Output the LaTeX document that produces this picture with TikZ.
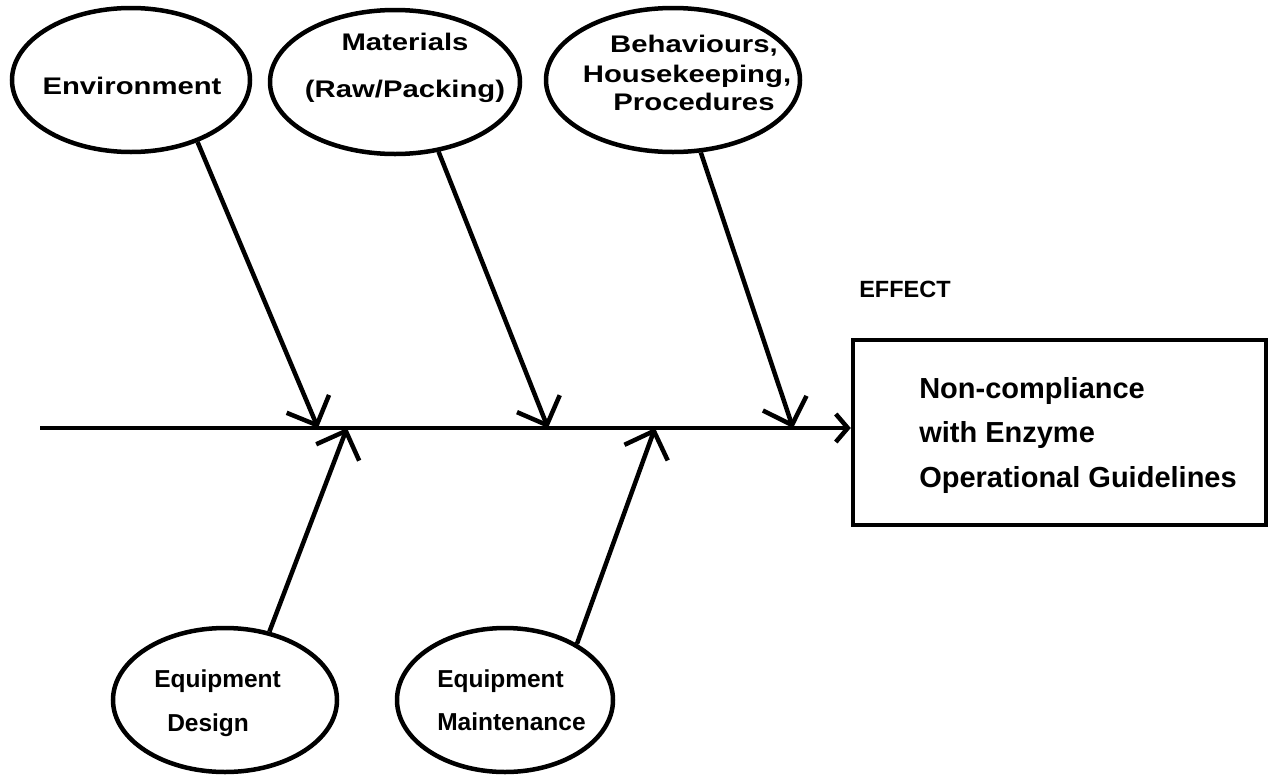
\documentclass[tikz,border=0pt]{standalone}
\usepackage{fontspec}
\setmainfont{Liberation Sans}
\newfontfamily\widefont[FakeStretch=1.22]{Liberation Sans}
\usetikzlibrary{arrows.meta,shapes.geometric}
\begin{document}
\begin{tikzpicture}[x=1pt,y=-1pt,line width=4.5pt,
  cause/.style={draw,ellipse,line width=4.5pt,inner sep=0pt,minimum height=144pt},
  toplbl/.style={font=\widefont\bfseries\fontsize{24}{24}\selectfont,anchor=base,inner sep=0pt},
  botlbl/.style={font=\bfseries\fontsize{24.5}{24}\selectfont,anchor=base west,inner sep=0pt},
  boxlbl/.style={font=\bfseries\fontsize{29}{29}\selectfont,anchor=base west,inner sep=0pt},
  bone/.style={-{Straight Barb[length=23pt,width=46pt]},line width=4.5pt},
  spine/.style={-{Straight Barb[length=12pt,width=28pt]},line width=4.5pt}]
\useasboundingbox (0,0) rectangle (1272,774);

% cause ellipses
\node[cause,minimum width=238pt] (env) at (131,80) {};
\node[cause,minimum width=250pt] (mat) at (395,82) {};
\node[cause,minimum width=254pt] (beh) at (673,80) {};
\node[cause,minimum width=224pt] (des) at (225,700) {};
\node[cause,minimum width=216pt] (mnt) at (505,700) {};

% effect box
\node[draw,line width=4.5pt,minimum width=413pt,minimum height=185pt,inner sep=0pt] (eff) at (1059.5,432.5) {};

% labels
\node[toplbl] (envtxt) at (132,94) {Environment};
\node[toplbl] (mat1) at (405,50) {Materials};
\node[toplbl] (mat2) at (405,97) {(Raw/Packing)};
\node[toplbl] (beh1) at (694,52) {Behaviours,};
\node[toplbl] (beh2) at (687,82) {Housekeeping,};
\node[toplbl] (beh3) at (694,110) {Procedures};
\node[botlbl] (des1) at (152,687) {Equipment};
\node[botlbl] (des2) at (165,731) {Design};
\node[botlbl] (mnt1) at (435,687) {Equipment};
\node[botlbl] (mnt2) at (435,730) {Maintenance};
\node[font=\bfseries\fontsize{23.5}{24}\selectfont,anchor=base west,inner sep=0pt] (efflbl) at (857,297) {EFFECT};
\node[boxlbl] (box1) at (917,398) {Non-compliance};
\node[boxlbl] (box2) at (917,442) {with Enzyme};
\node[boxlbl] (box3) at (917,487) {Operational Guidelines};

% spine
\coordinate (tail) at (40,428);
\coordinate (t1) at (318,428);
\coordinate (t2) at (347,428);
\coordinate (t3) at (548,428);
\coordinate (t4) at (655,428);
\coordinate (t5) at (793,428);
\draw[spine] (tail) -- (tail -| eff.west);

% bones
\draw[bone] (env.-43) -- (t1);
\draw[bone] (des.57) -- (t2);
\draw[bone] (mat.-58) -- (t3);
\draw[bone] (mnt.38) -- (t4);
\draw[bone] (beh.-69) -- (t5);
\end{tikzpicture}
\end{document}
